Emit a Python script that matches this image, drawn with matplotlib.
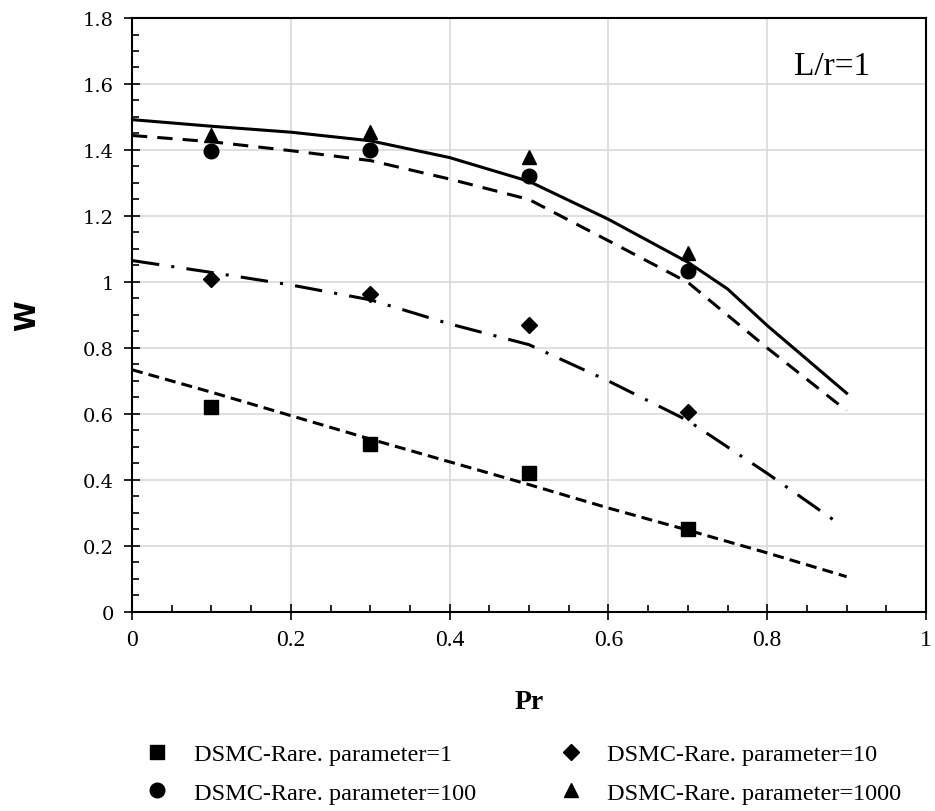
import numpy as np
import matplotlib
matplotlib.use('Agg')
import matplotlib.pyplot as plt
from matplotlib.ticker import MultipleLocator, FuncFormatter

# DSMC points
pr_pts = [0.1, 0.3, 0.5, 0.7]
w_p1 = [0.62, 0.51, 0.42, 0.25]
w_p10 = [1.01, 0.965, 0.87, 0.605]
w_p100 = [1.397, 1.40, 1.321, 1.033]
w_p1000 = [1.445, 1.455, 1.38, 1.088]

# curves
pr_c1 = [0, 0.1, 0.2, 0.3, 0.4, 0.5, 0.6, 0.7, 0.8, 0.9]
w_c1 = [0.734, 0.666, 0.595, 0.524, 0.455, 0.386, 0.315, 0.248, 0.179, 0.107]
pr_c10 = [0, 0.1, 0.2, 0.3, 0.4, 0.5, 0.6, 0.7, 0.8, 0.89]
w_c10 = [1.065, 1.029, 0.991, 0.946, 0.873, 0.81, 0.70, 0.58, 0.42, 0.268]
pr_c100 = [0, 0.1, 0.2, 0.3, 0.4, 0.5, 0.6, 0.7, 0.8, 0.9]
w_c100 = [1.444, 1.425, 1.398, 1.368, 1.312, 1.25, 1.125, 0.999, 0.80, 0.61]
pr_c1000 = [0, 0.1, 0.2, 0.3, 0.4, 0.5, 0.6, 0.7, 0.75, 0.8, 0.9]
w_c1000 = [1.492, 1.472, 1.454, 1.428, 1.377, 1.305, 1.19, 1.06, 0.979, 0.868, 0.663]

labels = ['DSMC-Rare. parameter=1', 'DSMC-Rare. parameter=10',
          'DSMC-Rare. parameter=100', 'DSMC-Rare. parameter=1000']

fig = plt.figure(figsize=(9.35, 8.12), dpi=100)
ax = fig.add_axes([0.1412, 0.2451, 0.8492, 0.7315])

lw = 2.2
ax.plot(pr_c1000, w_c1000, color='black', lw=lw, ls='-')
ax.plot(pr_c100, w_c100, color='black', lw=lw, ls=(0, (5, 3.3)))
ax.plot(pr_c10, w_c10, color='black', lw=lw, ls=(0, (9, 4, 1, 4)))
ax.plot(pr_c1, w_c1, color='black', lw=lw, ls=(0, (3.6, 2)))

h1, = ax.plot(pr_pts, w_p1, 's', color='black', ms=10.5, ls='none', label=labels[0])
h10, = ax.plot(pr_pts, w_p10, 'D', color='black', ms=8, ls='none', label=labels[1])
h100, = ax.plot(pr_pts, w_p100, 'o', color='black', ms=10.5, ls='none', label=labels[2])
h1000, = ax.plot(pr_pts, w_p1000, '^', color='black', ms=10.5, ls='none', label=labels[3])

ax.set_xlim(0, 1)
ax.set_ylim(0, 1.8)
ax.xaxis.set_major_locator(MultipleLocator(0.2))
ax.xaxis.set_minor_locator(MultipleLocator(0.05))
ax.yaxis.set_major_locator(MultipleLocator(0.2))
ax.yaxis.set_minor_locator(MultipleLocator(0.05))
fmt = FuncFormatter(lambda v, p: '%g' % round(v, 2))
ax.xaxis.set_major_formatter(fmt)
ax.yaxis.set_major_formatter(fmt)

ax.grid(True, which='major', color='#d9d9d9', lw=1.2)
ax.set_axisbelow(True)
for s in ax.spines.values():
    s.set_linewidth(1.5)
    s.set_color('black')

ax.tick_params(which='major', direction='inout', length=12, width=1.2)
ax.tick_params(which='minor', direction='in', length=5, width=1.2)
ax.tick_params(axis='x', which='major', pad=6, labelsize=17,
               labelfontfamily='Liberation Serif')
ax.tick_params(axis='y', which='major', pad=7, labelsize=14,
               labelfontfamily='DejaVu Serif')

ax.set_xlabel('Pr', fontfamily='Liberation Serif', fontweight='bold', fontsize=20, labelpad=28)
ax.set_ylabel('W', fontfamily='DejaVu Sans', fontweight='bold', fontsize=20, labelpad=30)

ax.text(0.9295, 0.906, 'L/r=1', transform=ax.transAxes, ha='right', va='baseline',
        fontfamily='Liberation Serif', fontsize=24)

fig.legend(handles=[h1, h100, h10, h1000], ncol=2, frameon=False,
           loc='upper left', bbox_to_anchor=(145 / 935, 1 - 744 / 812),
           borderaxespad=0, borderpad=0, handlelength=1.0,
           handletextpad=1.0, columnspacing=3.4, labelspacing=0.68,
           prop={'family': 'Liberation Serif', 'size': 17.5})

fig.savefig('out.png', dpi=100)
